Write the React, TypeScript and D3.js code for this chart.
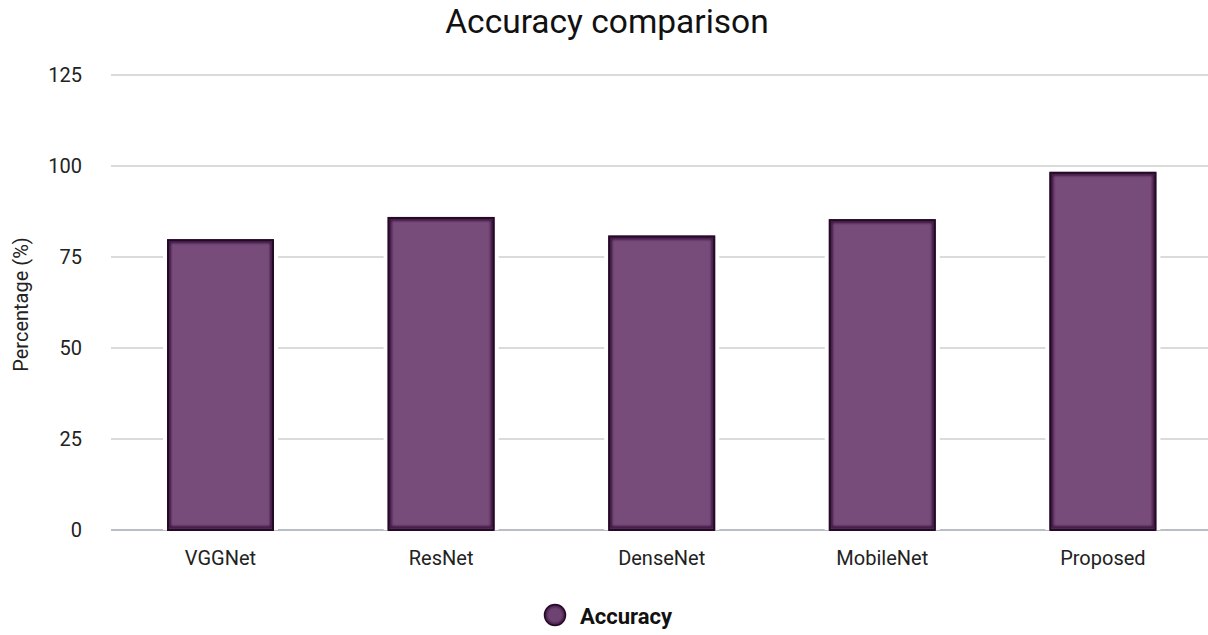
import React from "react";
import * as d3 from "d3";

const categories = ["VGGNet", "ResNet", "DenseNet", "MobileNet", "Proposed"];
const accuracy = [79.9, 86.0, 80.9, 85.4, 98.4];
const yTicks = [0, 25, 50, 75, 100, 125];
const seriesName = "Accuracy";

const W = 1208;
const H = 635;
const FONT = "Roboto, 'Noto Sans', sans-serif";

export default function App() {
  const y = d3.scaleLinear().domain([0, 125]).range([530, 75]);
  const x = d3
    .scaleBand<string>()
    .domain(categories)
    .range([110.2, 1213.2])
    .paddingInner(0.515)
    .paddingOuter(0.2575);

  const gridLeft = 111;
  const gridRight = W;

  return (
    <svg
      width={W}
      height={H}
      style={{ position: "absolute", left: 0, top: 0, background: "#fff" }}
      fontFamily={FONT}
    >
      <defs>
        <filter id="soft" x="-20%" y="-20%" width="140%" height="140%">
          <feGaussianBlur stdDeviation="1.3" />
        </filter>
        <radialGradient id="dot" cx="50%" cy="50%" r="50%">
          <stop offset="0.6" stopColor="#6e4272" />
          <stop offset="1" stopColor="#3a153c" />
        </radialGradient>
        {categories.map((c, i) => {
          const bx = x(c)!;
          const by = y(accuracy[i]);
          return (
            <clipPath id={`clip-${i}`} key={c}>
              <rect x={bx} y={by} width={x.bandwidth()} height={y(0) - by} />
            </clipPath>
          );
        })}
      </defs>

      <text x={607} y={33} textAnchor="middle" fontSize={33.5} fill="#111">
        Accuracy comparison
      </text>

      {/* horizontal grid and tick labels */}
      {yTicks.map((t) => (
        <g key={t}>
          <line
            x1={gridLeft}
            x2={gridRight}
            y1={y(t)}
            y2={y(t)}
            stroke={t === 0 ? "#a3a8b0" : "#cfcfcf"}
            strokeWidth={1.6}
          />
          <text
            x={82}
            y={y(t)}
            dy="0.36em"
            textAnchor="end"
            fontSize={20}
            fill="#222"
          >
            {t}
          </text>
        </g>
      ))}

      <text
        transform={`translate(28,${y(62.5) + 2}) rotate(-90)`}
        textAnchor="middle"
        fontSize={20}
        fill="#222"
      >
        Percentage (%)
      </text>

      {/* bars */}
      {categories.map((c, i) => {
        const bx = x(c)!;
        const bw = x.bandwidth();
        const by = y(accuracy[i]);
        const bh = y(0) - by;
        return (
          <g key={c}>
            <rect
              x={bx - 4}
              y={by - 4}
              width={bw + 8}
              height={bh + 4}
              fill="#fff"
            />
            <rect x={bx} y={by} width={bw} height={bh} fill="#774c7a" />
            <g clipPath={`url(#clip-${i})`}>
              <rect
                x={bx + 2.5}
                y={by + 2.5}
                width={bw - 5}
                height={bh - 5}
                fill="none"
                stroke="#3c173f"
                strokeWidth={3}
                filter="url(#soft)"
              />
            </g>
            <rect
              x={bx + 1}
              y={by + 1}
              width={bw - 2}
              height={bh - 1}
              fill="none"
              stroke="#240a26"
              strokeWidth={2}
            />
            <text
              x={bx + bw / 2}
              y={565}
              textAnchor="middle"
              fontSize={20}
              fill="#222"
            >
              {c}
            </text>
          </g>
        );
      })}

      {/* legend */}
      <g>
        <circle cx={555} cy={615} r={10.5} fill="url(#dot)" stroke="#240a26" strokeWidth={1.5} />
        <text x={580} y={623.5} fontSize={22} fontWeight="bold" fill="#111">
          {seriesName}
        </text>
      </g>
    </svg>
  );
}
